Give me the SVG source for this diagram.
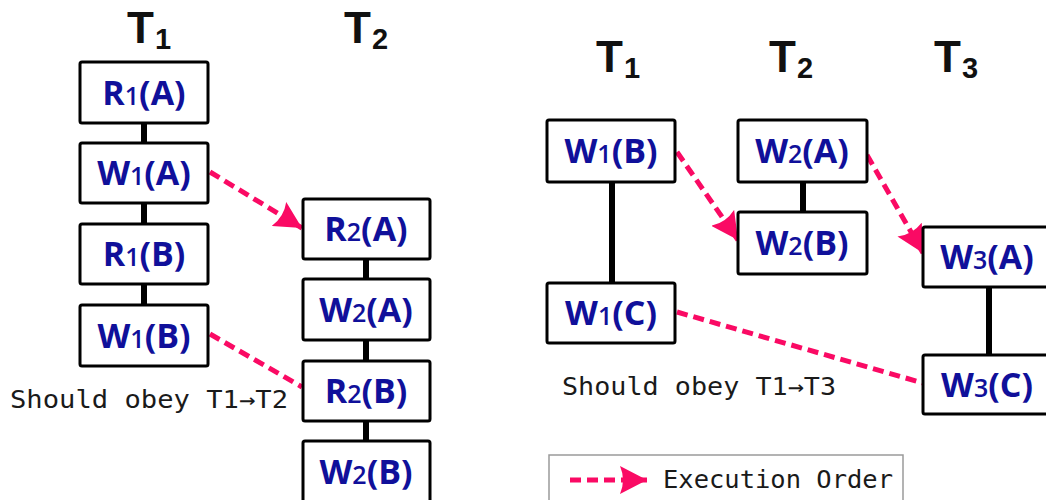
<svg xmlns="http://www.w3.org/2000/svg" width="1046" height="500" viewBox="0 0 1046 500">
  <style>
    .box { fill: #ffffff; stroke: #000000; stroke-width: 3; }
    .lbl { font-family: "Open Sans", "Liberation Sans", sans-serif; font-weight: bold; font-size: 34px; fill: #10109a; text-anchor: middle; }
    .lbl .sub { font-size: 25px; font-weight: 600; }
    .title { font-family: "Liberation Sans", "Arial", sans-serif; font-weight: bold; font-size: 44px; fill: #111111; }
    .title .sub { font-size: 29px; }
    .note { font-family: "DejaVu Sans Mono", "Liberation Mono", monospace; font-size: 24px; fill: #1a1a1a; }
    .seq { stroke: #000000; stroke-width: 6; }
    .order { stroke: #fa0a64; stroke-width: 5; stroke-dasharray: 11 6; fill: none; }
  </style>
  <defs>
    <marker id="head" markerUnits="userSpaceOnUse" markerWidth="28" markerHeight="28" refX="27" refY="14" orient="auto" viewBox="0 0 28 28">
      <path d="M0,0 L27,14 L0,28 Q6,14 0,0 Z" fill="#fa0a64"/>
    </marker>
  </defs>

  <rect width="1046" height="500" fill="#ffffff"/>

  <!-- column headings -->
  <g id="titles">
    <text class="title" x="127" y="43">T<tspan class="sub" x="155" y="49">1</tspan></text>
    <text class="title" x="344" y="43">T<tspan class="sub" x="372" y="49">2</tspan></text>
    <text class="title" x="596" y="72">T<tspan class="sub" x="624" y="78">1</tspan></text>
    <text class="title" x="769" y="72">T<tspan class="sub" x="797" y="78">2</tspan></text>
    <text class="title" x="934" y="72">T<tspan class="sub" x="962" y="78">3</tspan></text>
  </g>

  <!-- connectors: program order (solid) and execution order (dashed) -->
  <g id="connectors">
    <line class="seq" x1="144" y1="123" x2="144" y2="143"/>
    <line class="seq" x1="144" y1="203" x2="144" y2="224"/>
    <line class="seq" x1="144" y1="284" x2="144" y2="305"/>
    <line class="seq" x1="366" y1="259" x2="366" y2="279"/>
    <line class="seq" x1="366" y1="340" x2="366" y2="361"/>
    <line class="seq" x1="366" y1="421" x2="366" y2="441"/>
    <line class="seq" x1="612" y1="182" x2="612" y2="283"/>
    <line class="seq" x1="803" y1="182" x2="803" y2="212"/>
    <line class="seq" x1="989" y1="287" x2="989" y2="355"/>

    <line class="order" x1="210" y1="172" x2="302" y2="228" marker-end="url(#head)"/>
    <line class="order" x1="210" y1="334" x2="302" y2="387"/>
    <line class="order" x1="677" y1="152" x2="738" y2="240" marker-end="url(#head)"/>
    <line class="order" x1="867" y1="155" x2="923" y2="253" marker-end="url(#head)"/>
    <line class="order" x1="677" y1="312" x2="923" y2="383"/>
  </g>

  <!-- schedule 1: T1 -->
  <g id="s1-r1a"><rect class="box" x="80" y="62" width="128" height="61" rx="2"/><text class="lbl" x="144" y="105">R<tspan class="sub">1</tspan>(A)</text></g>
  <g id="s1-w1a"><rect class="box" x="80" y="143" width="128" height="60" rx="2"/><text class="lbl" x="144" y="185">W<tspan class="sub">1</tspan>(A)</text></g>
  <g id="s1-r1b"><rect class="box" x="80" y="224" width="128" height="60" rx="2"/><text class="lbl" x="144" y="266">R<tspan class="sub">1</tspan>(B)</text></g>
  <g id="s1-w1b"><rect class="box" x="80" y="305" width="128" height="61" rx="2"/><text class="lbl" x="144" y="348">W<tspan class="sub">1</tspan>(B)</text></g>

  <!-- schedule 1: T2 -->
  <g id="s1-r2a"><rect class="box" x="303" y="199" width="127" height="60" rx="2"/><text class="lbl" x="366" y="241">R<tspan class="sub">2</tspan>(A)</text></g>
  <g id="s1-w2a"><rect class="box" x="303" y="279" width="127" height="61" rx="2"/><text class="lbl" x="366" y="322">W<tspan class="sub">2</tspan>(A)</text></g>
  <g id="s1-r2b"><rect class="box" x="303" y="361" width="127" height="60" rx="2"/><text class="lbl" x="366" y="403">R<tspan class="sub">2</tspan>(B)</text></g>
  <g id="s1-w2b"><rect class="box" x="303" y="441" width="127" height="62" rx="2"/><text class="lbl" x="366" y="484">W<tspan class="sub">2</tspan>(B)</text></g>

  <g id="s1-note"><text class="note" x="10" y="408" textLength="278" lengthAdjust="spacingAndGlyphs">Should obey T1→T2</text></g>

  <!-- schedule 2 -->
  <g id="s2-w1b"><rect class="box" x="547" y="120" width="128" height="62" rx="2"/><text class="lbl" x="611" y="163">W<tspan class="sub">1</tspan>(B)</text></g>
  <g id="s2-w1c"><rect class="box" x="547" y="283" width="128" height="60" rx="2"/><text class="lbl" x="611" y="325">W<tspan class="sub">1</tspan>(C)</text></g>
  <g id="s2-w2a"><rect class="box" x="738" y="120" width="129" height="62" rx="2"/><text class="lbl" x="802" y="163">W<tspan class="sub">2</tspan>(A)</text></g>
  <g id="s2-w2b"><rect class="box" x="738" y="212" width="129" height="62" rx="2"/><text class="lbl" x="802" y="255">W<tspan class="sub">2</tspan>(B)</text></g>
  <g id="s2-w3a"><rect class="box" x="923" y="227" width="130" height="60" rx="2"/><text class="lbl" x="987" y="269">W<tspan class="sub">3</tspan>(A)</text></g>
  <g id="s2-w3c"><rect class="box" x="923" y="355" width="130" height="59" rx="2"/><text class="lbl" x="987" y="397">W<tspan class="sub">3</tspan>(C)</text></g>

  <g id="s2-note"><text class="note" x="562" y="395" textLength="274" lengthAdjust="spacingAndGlyphs">Should obey T1→T3</text></g>

  <!-- legend -->
  <g id="legend">
    <rect x="549" y="455" width="354" height="50" fill="#ffffff" stroke="#9a9a9a" stroke-width="1.5"/>
    <line class="order" x1="570" y1="480" x2="647" y2="480" marker-end="url(#head)"/>
    <text class="note" x="663" y="488" textLength="230" lengthAdjust="spacingAndGlyphs">Execution Order</text>
  </g>
</svg>
